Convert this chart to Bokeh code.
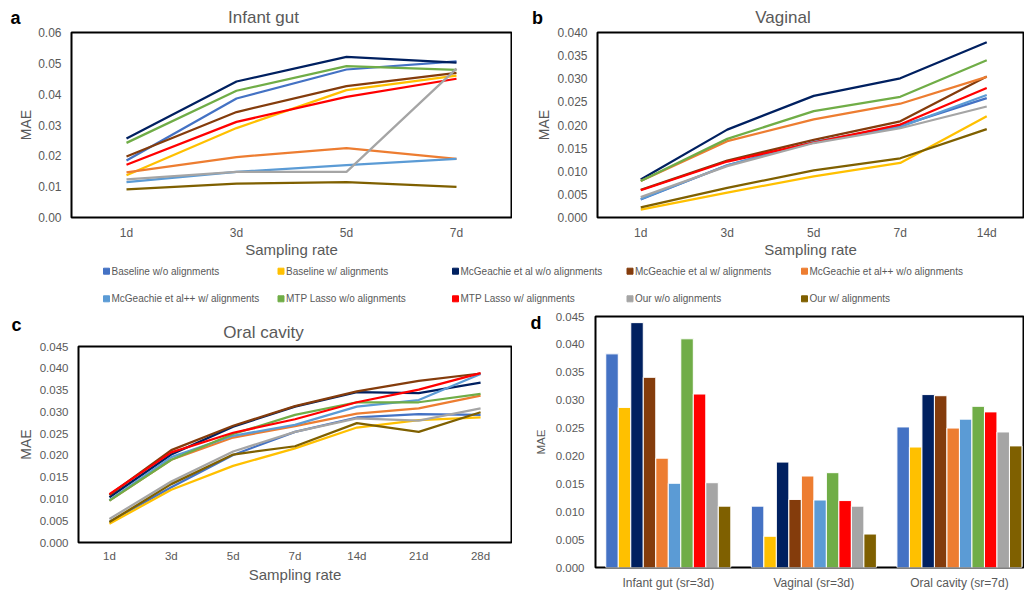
from bokeh.plotting import figure
from bokeh.models import Range1d, FixedTicker, NumeralTickFormatter, ColumnDataSource, LinearAxis
from bokeh.layouts import column, row
from bokeh.embed import file_html
from bokeh.resources import INLINE
from bokeh.core.properties import value

FONT = "Liberation Sans"
GREY = "#595959"

# ---------------- data ----------------
methods = ["Baseline w/o alignments", "Baseline w/ alignments",
           "McGeachie et al w/o alignments", "McGeachie et al w/ alignments",
           "McGeachie et al++ w/o alignments", "McGeachie et al++ w/ alignments",
           "MTP Lasso w/o alignments", "MTP Lasso w/ alignments",
           "Our w/o alignments", "Our w/ alignments"]
colors = ["#4472C4", "#FFC000", "#002060", "#843C0C", "#ED7D31",
          "#5B9BD5", "#70AD47", "#FF0000", "#A5A5A5", "#7F6000"]

# (a) Infant gut
gut_rates = ["1d", "3d", "5d", "7d"]
gut_baseline_wo = [0.0185, 0.0386, 0.0480, 0.0506]
gut_baseline_w = [0.0137, 0.0290, 0.0413, 0.0460]
gut_mcg_wo = [0.0256, 0.0441, 0.0521, 0.0502]
gut_mcg_w = [0.0198, 0.0342, 0.0426, 0.0469]
gut_mcgpp_wo = [0.0146, 0.0196, 0.0225, 0.0190]
gut_mcgpp_w = [0.0115, 0.0148, 0.0170, 0.0190]
gut_mtp_wo = [0.0242, 0.0411, 0.0491, 0.0479]
gut_mtp_w = [0.0171, 0.0310, 0.0391, 0.0450]
gut_our_wo = [0.0124, 0.0148, 0.0148, 0.0483]
gut_our_w = [0.0091, 0.0110, 0.0115, 0.0099]

# (b) Vaginal
vag_rates = ["1d", "3d", "5d", "7d", "14d"]
vag_baseline_wo = [0.0039, 0.0113, 0.0163, 0.0198, 0.0258]
vag_baseline_w = [0.0017, 0.0054, 0.0089, 0.0118, 0.0219]
vag_mcg_wo = [0.0082, 0.0190, 0.0263, 0.0301, 0.0379]
vag_mcg_w = [0.0060, 0.0123, 0.0168, 0.0208, 0.0305]
vag_mcgpp_wo = [0.0079, 0.0165, 0.0212, 0.0246, 0.0304]
vag_mcgpp_w = [0.0040, 0.0113, 0.0163, 0.0196, 0.0265]
vag_mtp_wo = [0.0079, 0.0170, 0.0230, 0.0261, 0.0340]
vag_mtp_w = [0.0059, 0.0121, 0.0162, 0.0201, 0.0280]
vag_our_wo = [0.0044, 0.0111, 0.0161, 0.0193, 0.0240]
vag_our_w = [0.0022, 0.0064, 0.0102, 0.0128, 0.0191]

# (c) Oral cavity
oral_rates = ["1d", "3d", "5d", "7d", "14d", "21d", "28d"]
oral_baseline_wo = [0.0047, 0.0127, 0.0201, 0.0254, 0.0287, 0.0295, 0.0293]
oral_baseline_w = [0.0043, 0.0121, 0.0176, 0.0216, 0.0264, 0.0281, 0.0287]
oral_mcg_wo = [0.0104, 0.0202, 0.0266, 0.0312, 0.0345, 0.0343, 0.0367]
oral_mcg_w = [0.0109, 0.0212, 0.0268, 0.0313, 0.0347, 0.0371, 0.0388]
oral_mcgpp_wo = [0.0096, 0.0190, 0.0241, 0.0267, 0.0296, 0.0308, 0.0337]
oral_mcgpp_w = [0.0097, 0.0196, 0.0245, 0.0270, 0.0312, 0.0327, 0.0387]
oral_mtp_wo = [0.0096, 0.0190, 0.0249, 0.0293, 0.0322, 0.0322, 0.0341]
oral_mtp_w = [0.0111, 0.0207, 0.0252, 0.0283, 0.0322, 0.0351, 0.0389]
oral_our_wo = [0.0054, 0.0140, 0.0209, 0.0254, 0.0285, 0.0280, 0.0308]
oral_our_w = [0.0047, 0.0134, 0.0202, 0.0221, 0.0274, 0.0254, 0.0299]

# (d) comparison bars
groups = ["Infant gut (sr=3d)", "Vaginal (sr=3d)", "Oral cavity (sr=7d)"]
bar_baseline_wo = [0.0383, 0.0110, 0.0252]
bar_baseline_w = [0.0287, 0.0056, 0.0216]
bar_mcg_wo = [0.0439, 0.0189, 0.0310]
bar_mcg_w = [0.0341, 0.0122, 0.0308]
bar_mcgpp_wo = [0.0196, 0.0164, 0.0250]
bar_mcgpp_w = [0.0151, 0.0121, 0.0266]
bar_mtp_wo = [0.0410, 0.0170, 0.0289]
bar_mtp_w = [0.0311, 0.0120, 0.0279]
bar_our_wo = [0.0152, 0.0110, 0.0243]
bar_our_w = [0.0110, 0.0060, 0.0218]

panel_titles = ["Infant gut", "Vaginal", "Oral cavity"]
panel_letters = ["a", "b", "c", "d"]

gut_series = [gut_baseline_wo, gut_baseline_w, gut_mcg_wo, gut_mcg_w, gut_mcgpp_wo,
              gut_mcgpp_w, gut_mtp_wo, gut_mtp_w, gut_our_wo, gut_our_w]
vag_series = [vag_baseline_wo, vag_baseline_w, vag_mcg_wo, vag_mcg_w, vag_mcgpp_wo,
              vag_mcgpp_w, vag_mtp_wo, vag_mtp_w, vag_our_wo, vag_our_w]
oral_series = [oral_baseline_wo, oral_baseline_w, oral_mcg_wo, oral_mcg_w, oral_mcgpp_wo,
               oral_mcgpp_w, oral_mtp_wo, oral_mtp_w, oral_our_wo, oral_our_w]
bar_series = [bar_baseline_wo, bar_baseline_w, bar_mcg_wo, bar_mcg_w, bar_mcgpp_wo,
              bar_mcgpp_w, bar_mtp_wo, bar_mtp_w, bar_our_wo, bar_our_w]


def no_align(p):
    try:
        p.frame_align = False
    except Exception:
        pass
    return p


def blank_fig(W, H):
    p = figure(width=W, height=H, x_range=Range1d(0, W), y_range=Range1d(0, H),
               output_backend="svg", toolbar_location=None,
               x_axis_location=None, y_axis_location=None, min_border=0,
               outline_line_color=None)
    p.grid.grid_line_color = None
    return no_align(p)


def header(W, H, letter, lx, ly, title, tx, ty):
    p = blank_fig(W, H)
    p.text(x=[lx], y=[ly], text=[letter], text_font=value(FONT), text_font_style="bold",
           text_font_size="18px", text_color="black", text_align="center",
           text_baseline="middle")
    p.text(x=[tx], y=[ty], text=[title], text_font=value(FONT), text_font_size="17px",
           text_color=GREY, text_align="center", text_baseline="middle")
    return p


def style_axes(p, cats_pos, cats, ymax, ystep, yfmt, tick_fs, ylab_fs, xlab,
               y_standoff, y_lab_standoff, x_standoff, x_lab_standoff):
    p.xaxis.ticker = FixedTicker(ticks=cats_pos)
    p.xaxis.major_label_overrides = {x: c for x, c in zip(cats_pos, cats)}
    n = int(round(ymax / ystep))
    p.yaxis.ticker = FixedTicker(ticks=[round(i * ystep, 4) for i in range(n + 1)])
    p.yaxis.formatter = NumeralTickFormatter(format=yfmt)
    for ax in (p.xaxis[0], p.yaxis[0]):
        ax.axis_line_color = None
        ax.major_tick_line_color = None
        ax.minor_tick_line_color = None
        ax.major_tick_out = 0
        ax.major_tick_in = 0
        ax.major_label_text_font = FONT
        ax.major_label_text_color = GREY
        ax.major_label_text_font_size = tick_fs
        ax.axis_label_text_font = FONT
        ax.axis_label_text_color = GREY
        ax.axis_label_text_font_style = "normal"
    p.yaxis.axis_label = "MAE"
    p.yaxis.axis_label_text_font_size = ylab_fs
    p.yaxis.major_label_standoff = y_standoff
    p.yaxis.axis_label_standoff = y_lab_standoff
    p.xaxis.major_label_standoff = x_standoff
    if xlab:
        p.xaxis.axis_label = xlab
        p.xaxis.axis_label_text_font_size = "15px"
        p.xaxis.axis_label_standoff = x_lab_standoff
    p.grid.grid_line_color = None
    p.outline_line_color = "black"
    p.outline_line_width = 2
    p.outline_line_alpha = 1.0


def line_panel(cats, series, ymax, ystep, yfmt, W, H, ml, mt, mb, xend, tick_fs,
               y_standoff, y_lab_standoff, x_standoff, x_lab_standoff):
    p = figure(width=W, height=H, x_range=Range1d(0, xend), y_range=Range1d(0, ymax),
               output_backend="svg", toolbar_location=None,
               min_border_left=ml, min_border_right=1, min_border_top=mt, min_border_bottom=mb)
    no_align(p)
    xs = [i + 0.5 for i in range(len(cats))]
    for name, color, ys in zip(methods, colors, series):
        p.line(xs, ys, line_color=color, line_width=2.25)
    style_axes(p, xs, cats, ymax, ystep, yfmt, tick_fs, "14px", "Sampling rate",
               y_standoff, y_lab_standoff, x_standoff, x_lab_standoff)
    return p


# row 1
ha = header(512, 27, panel_letters[0], 15, 10, panel_titles[0], 263, 10)
pa = line_panel(gut_rates, gut_series, 0.06, 0.01, "0.00", 512, 237, 71, 5, 47, 4.0,
                "12px", 10, 1, 8, -2)
hb = header(512, 27, panel_letters[1], 25, 10, panel_titles[1], 270.5, 10)
pb = line_panel(vag_rates, vag_series, 0.04, 0.005, "0.000", 512, 237, 85, 5, 47, 4.925,
                "12px", 10, 2, 8, -2)

# row 2, left
hc = header(512, 37, panel_letters[2], 16, 17, panel_titles[2], 263, 9)
pc = line_panel(oral_rates, oral_series, 0.045, 0.005, "0.000", 512, 251, 78, 5, 50, 7.0,
                "11.5px", 10, 3, 7, 1)

# (d) bar chart
pd_ = figure(width=512, height=288, x_range=Range1d(0, 2.94), y_range=Range1d(0, 0.045),
             output_backend="svg", toolbar_location=None,
             min_border_left=83, min_border_right=1, min_border_top=12, min_border_bottom=24)
no_align(pd_)
step = 0.0859
gx = [i + 0.5 for i in range(len(groups))]
for k, (name, color, vals) in enumerate(zip(methods, colors, bar_series)):
    off = (k - 4.5) * step
    src = ColumnDataSource(dict(x=[g + off for g in gx], top=vals))
    pd_.vbar(x="x", top="top", width=step, source=src, fill_color=color,
             line_color="white", line_width=1)
style_axes(pd_, gx, groups, 0.045, 0.005, "0.000", "11.5px", "11.5px", None,
           11, 6, 8, 0)
pd_.xaxis.major_label_text_font_size = "12px"
# panel letter "d" drawn as the single label of an outer, line-less axis
d_pos = 0.0439
letter_axis = LinearAxis(ticker=FixedTicker(ticks=[d_pos]),
                         major_label_overrides={d_pos: panel_letters[3]},
                         axis_line_color=None, major_tick_line_color=None,
                         minor_tick_line_color=None, major_tick_out=0, major_tick_in=0,
                         major_label_standoff=-10, major_label_text_font=FONT,
                         major_label_text_font_style="bold",
                         major_label_text_font_size="18px",
                         major_label_text_color="black")
pd_.add_layout(letter_axis, "left")

# legend strip
pl = blank_fig(1024, 40)
lx = [106 + (i % 5) * 174.5 for i in range(len(methods))]
ly = [33.3 if i < 5 else 5.7 for i in range(len(methods))]
lsrc = ColumnDataSource(dict(x=lx, y=ly, tx=[v + 5 for v in lx], c=colors, t=methods))
pl.scatter(x="x", y="y", source=lsrc, marker="square", size=6, fill_color="c", line_color="c")
pl.text(x="tx", y="y", text="t", source=lsrc, text_font=value(FONT), text_font_size="10px",
        text_color=GREY, text_baseline="middle", text_align="left")

layout = column(row(column(ha, pa), column(hb, pb)), pl,
                row(column(hc, pc), pd_))

with open("out.html", "w") as f:
    f.write(file_html(layout, INLINE))
